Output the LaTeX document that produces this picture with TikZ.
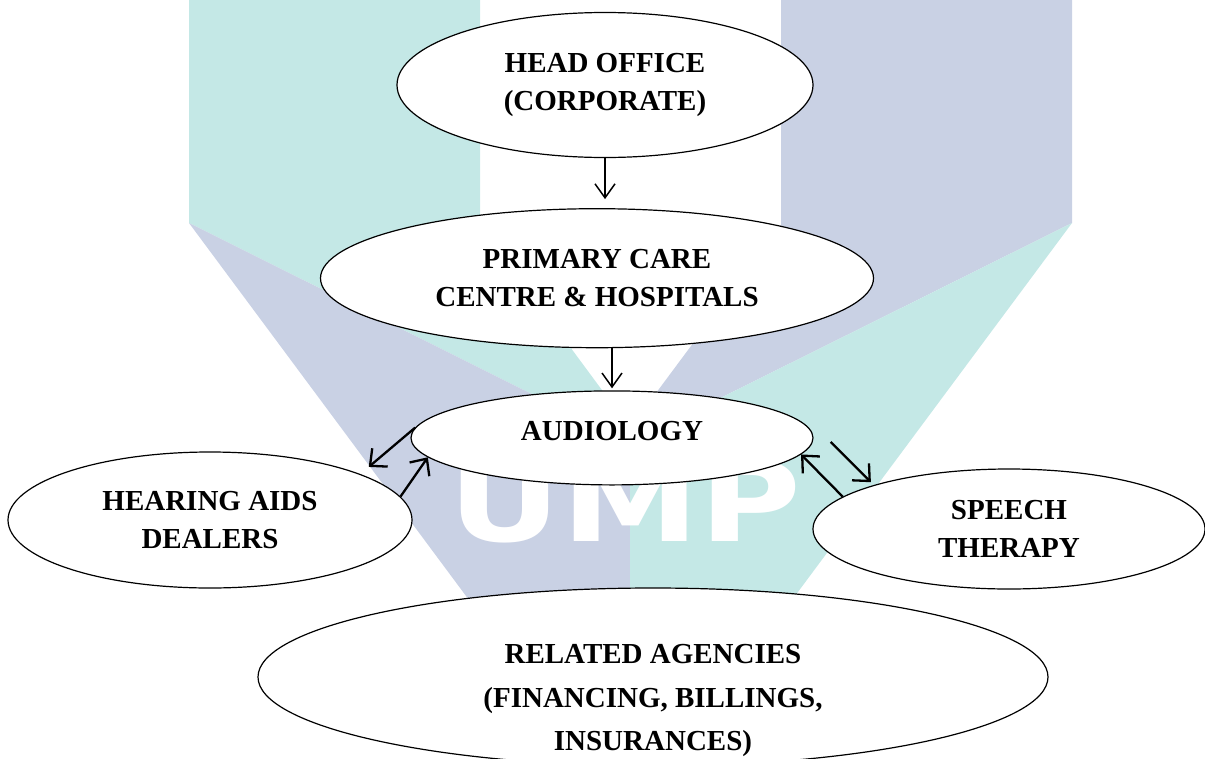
\documentclass[tikz,border=0pt]{standalone}
\usepackage{graphicx}
\usepackage{fontspec}
\setmainfont{Liberation Serif}
\newfontfamily\logofont{DejaVu Sans}
\usetikzlibrary{shapes,arrows.meta,positioning}

\definecolor{umpteal}{RGB}{196,232,230}
\definecolor{umplav}{RGB}{201,209,228}

\begin{document}
\begin{tikzpicture}[
    x=1pt, y=-1pt,
    bubble/.style={ellipse, draw, line width=1.2pt, fill=white, inner sep=0pt, align=center, font=\fontsize{29}{38}\selectfont\bfseries},
    caption/.style={align=center, inner sep=0pt, font=\fontsize{29}{38}\selectfont\bfseries},
    arrow/.style={line width=1.5pt, -{Straight Barb[length=14pt,width=20pt]}},
    link/.style={line width=2.3pt, -{Straight Barb[length=13pt,width=24pt]}}
  ]
  \useasboundingbox (0,0) rectangle (1205,758);

  % Watermark in the background
  \fill[umpteal] (189,0) -- (480,0) -- (480,225) -- (630,428) -- (630,443) -- (189,223) -- cycle;
  \fill[umplav] (1072,0) -- (781,0) -- (781,225) -- (630,428) -- (630,443) -- (1072,223) -- cycle;
  \fill[umplav] (189,223) -- (630,443) -- (630,600) -- (469,600) -- cycle;
  \fill[umpteal] (1072,223) -- (630,443) -- (630,600) -- (792,600) -- cycle;
  \node[anchor=base, inner sep=0pt, text=white, font=\logofont\bfseries\fontsize{139}{139}\selectfont] (logo) at (625,541) {\scalebox{1}[0.8]{UMP}};

  % Main chain
  \node[bubble, minimum width=416pt, minimum height=145pt] (head) at (605,85) {HEAD OFFICE\\(CORPORATE)};
  \node[bubble, minimum width=553pt, minimum height=139pt, below=50pt of head, xshift=-8pt] (primary) {PRIMARY CARE\\CENTRE \& HOSPITALS};
  \node[bubble, minimum width=402pt, minimum height=94pt, text depth=14pt, below=42pt of primary, xshift=15pt] (audio) {AUDIOLOGY};

  % Partners around audiology
  \node[bubble, minimum width=404pt, minimum height=136pt] (dealers) at (210,520) {HEARING AIDS\\DEALERS};
  \node[bubble, minimum width=392pt, minimum height=120pt] (speech) at (1009,529) {SPEECH\\THERAPY};
  \node[bubble, minimum width=790pt, minimum height=178pt] (agency) at (653,677) {};
  \node[caption] (agencytext) at ([yshift=-23pt]agency.center) {RELATED AGENCIES\\[6pt](FINANCING, BILLINGS,\\[5pt]INSURANCES)};

  % Arrows down the chain
  \draw[arrow, shorten >=9pt] (head.south) -- (head.south |- primary.north);
  \draw[arrow, shorten >=2pt] (primary.south -| audio.north) -- (audio.north);

  % Arrows both ways
  \draw[link, shorten >=11pt] (audio.177) -- (dealers.17);
  \draw[link] (dealers.7) -- (audio.186);
  \draw[link, shorten >=4pt] ([shift={(17,4)}]audio.east) -- (speech.162);
  \draw[link] (speech.169) -- (audio.355);

\end{tikzpicture}
\end{document}
